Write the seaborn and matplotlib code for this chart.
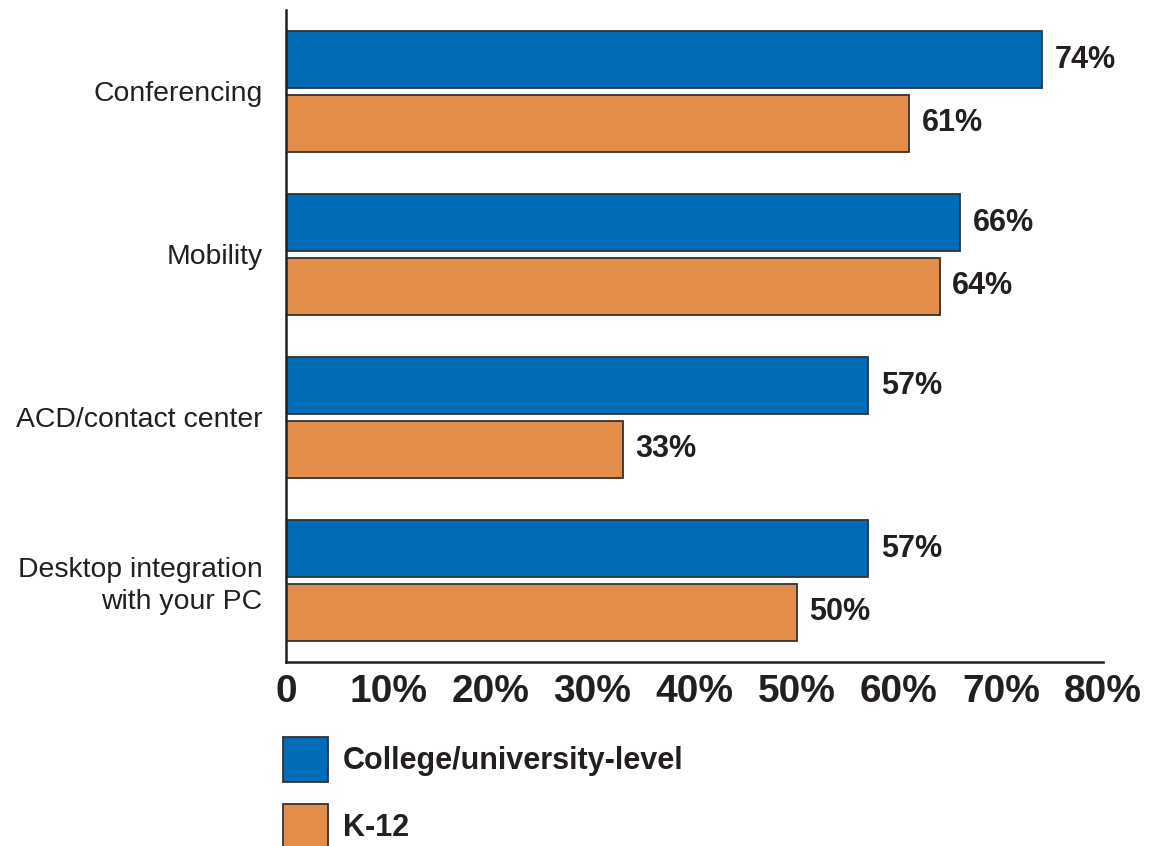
import matplotlib
matplotlib.use("Agg")
import matplotlib.pyplot as plt
import seaborn as sns
import pandas as pd
from matplotlib.patches import Patch

# Survey data
categories = ["Conferencing", "Mobility", "ACD/contact center",
              "Desktop integration\nwith your PC"]
groups = ["College/university-level", "K-12"]
college = [74, 66, 57, 57]
k12 = [61, 64, 33, 50]
x_ticks = [0, 10, 20, 30, 40, 50, 60, 70, 80]
x_tick_labels = ["0", "10%", "20%", "30%", "40%", "50%", "60%", "70%", "80%"]

colors = ["#006bb6", "#e28e4a"]
edge = "#333333"
ink = "#231f20"

df = pd.DataFrame({
    "category": categories * 2,
    "value": college + k12,
    "group": [groups[0]] * len(categories) + [groups[1]] * len(categories),
})

sns.set_style("white")
plt.rcParams["font.family"] = ["Liberation Sans", "DejaVu Sans"]

fig = plt.figure(figsize=(11.56, 8.46), dpi=100)
ax = fig.add_axes([0.2474, 0.2175, 0.9542 - 0.2474, 0.9882 - 0.2175])

sns.barplot(data=df, y="category", x="value", hue="group", orient="h",
            palette=colors, width=0.78, gap=0.1, edgecolor=edge,
            linewidth=1.3, legend=False, ax=ax, saturation=1)

for cont in ax.containers:
    ax.bar_label(cont, labels=[f"{v:.0f}%" for v in cont.datavalues],
                 padding=9, fontsize=22, fontweight="bold", color=ink)

ax.set_xlim(0, 80)
ax.set_ylim(3.5, -0.5)
ax.set_xticks(x_ticks)
ax.set_xticklabels(x_tick_labels, fontsize=28, fontweight="bold", color=ink)
ax.tick_params(axis="x", direction="in", length=10, width=1.5, color=ink, pad=9)
ax.tick_params(axis="y", length=0, pad=17, labelsize=20.4, labelcolor=ink)
for lbl in ax.get_yticklabels():
    lbl.set_horizontalalignment("right")
    lbl.set_linespacing(1.3)
ax.set_xlabel("")
ax.set_ylabel("")

for side in ["top", "right"]:
    ax.spines[side].set_visible(False)
for side in ["left", "bottom"]:
    ax.spines[side].set_color(ink)
    ax.spines[side].set_linewidth(1.8)

handles = [Patch(facecolor=c, edgecolor=edge, linewidth=1.3) for c in colors]
leg = fig.legend(handles, groups, loc="upper left",
                 bbox_to_anchor=(283 / 1156, 1 - 737 / 846),
                 frameon=False, fontsize=22, handlelength=1.47, handleheight=1.89,
                 handletextpad=0.5, labelspacing=0.72, borderpad=0,
                 borderaxespad=0)
for t in leg.get_texts():
    t.set_fontweight("bold")
    t.set_color(ink)

fig.savefig("out.png", dpi=100)
